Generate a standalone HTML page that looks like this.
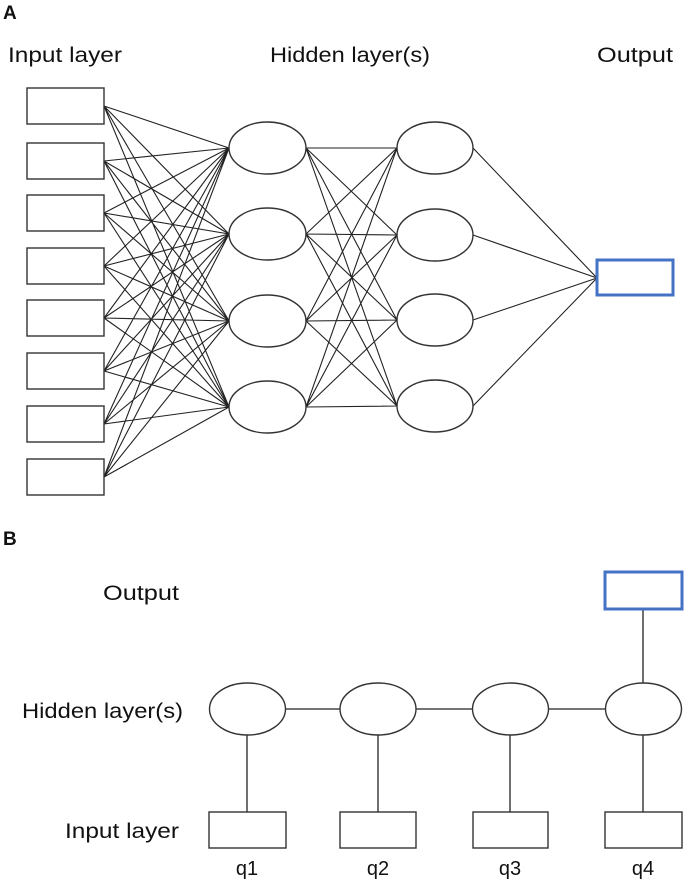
<!DOCTYPE html>
<html><head><meta charset="utf-8"><style>
html,body{margin:0;padding:0;background:#fff;}
svg{display:block;}
text{font-family:"Liberation Sans",sans-serif;fill:#111;}
</style></head><body>
<svg width="688" height="880" viewBox="0 0 688 880" xmlns="http://www.w3.org/2000/svg">
<g stroke="#222" stroke-width="1.1" fill="none">
<path d="M104 106L229 148M104 106L229 234M104 106L229 321M104 106L229 407
M104 161L229 148M104 161L229 234M104 161L229 321M104 161L229 407
M104 213L229 148M104 213L229 234M104 213L229 321M104 213L229 407
M104 266L229 148M104 266L229 234M104 266L229 321M104 266L229 407
M104 318L229 148M104 318L229 234M104 318L229 321M104 318L229 407
M104 371L229 148M104 371L229 234M104 371L229 321M104 371L229 407
M104 424L229 148M104 424L229 234M104 424L229 321M104 424L229 407
M104 477L229 148M104 477L229 234M104 477L229 321M104 477L229 407"/>
<path d="M306 148L397 148M306 148L397 235M306 148L397 320M306 148L397 406
M306 234L397 148M306 234L397 235M306 234L397 320M306 234L397 406
M306 321L397 148M306 321L397 235M306 321L397 320M306 321L397 406
M306 407L397 148M306 407L397 235M306 407L397 320M306 407L397 406"/>
<path d="M473 148L597 278M473 235L597 278M473 320L597 278M473 406L597 278"/>
</g>
<g stroke="#333" stroke-width="1.4" fill="#fff">
<rect x="27" y="88" width="77" height="36"/>
<rect x="27" y="143" width="77" height="36"/>
<rect x="27" y="195" width="77" height="36"/>
<rect x="27" y="248" width="77" height="36"/>
<rect x="27" y="300" width="77" height="36"/>
<rect x="27" y="353" width="77" height="36"/>
<rect x="27" y="406" width="77" height="36"/>
<rect x="27" y="459" width="77" height="36"/>
<ellipse cx="267.5" cy="148" rx="38.5" ry="26"/>
<ellipse cx="267.5" cy="234" rx="38.5" ry="26"/>
<ellipse cx="267.5" cy="321" rx="38.5" ry="26"/>
<ellipse cx="267.5" cy="407" rx="38.5" ry="26"/>
<ellipse cx="435" cy="148" rx="38" ry="26"/>
<ellipse cx="435" cy="235" rx="38" ry="26"/>
<ellipse cx="435" cy="320" rx="38" ry="26"/>
<ellipse cx="435" cy="406" rx="38" ry="26"/>
</g>
<rect x="597" y="260" width="76" height="35" fill="#fff" stroke="#4472c4" stroke-width="3"/>
<text x="3" y="19" font-size="19" font-weight="bold">A</text>
<text x="8" y="62" font-size="21" textLength="114" lengthAdjust="spacingAndGlyphs">Input layer</text>
<text x="270" y="62" font-size="21" textLength="160" lengthAdjust="spacingAndGlyphs">Hidden layer(s)</text>
<text x="597" y="62" font-size="21" textLength="76" lengthAdjust="spacingAndGlyphs">Output</text>

<text x="3" y="545" font-size="19" font-weight="bold">B</text>
<g stroke="#222" stroke-width="1.3" fill="none">
<path d="M286 709L340 709M416 709L473 709M548 709L605 709M643 609L643 683"/>
<path d="M247 735L247 812M378 735L378 812M510 735L510 812M643 735L643 812"/>
</g>
<g stroke="#333" stroke-width="1.4" fill="#fff">
<ellipse cx="247.5" cy="709" rx="38" ry="26"/>
<ellipse cx="378" cy="709" rx="38" ry="26"/>
<ellipse cx="510.5" cy="709" rx="38" ry="26"/>
<ellipse cx="643.5" cy="709" rx="38" ry="26"/>
<rect x="209" y="812" width="77" height="36"/>
<rect x="340" y="812" width="76" height="36"/>
<rect x="473" y="812" width="75" height="36"/>
<rect x="605" y="812" width="77" height="36"/>
</g>
<rect x="605" y="572" width="77" height="37" fill="#fff" stroke="#4472c4" stroke-width="3"/>
<text x="103" y="600" font-size="21" textLength="76" lengthAdjust="spacingAndGlyphs">Output</text>
<text x="22" y="718" font-size="21" textLength="161" lengthAdjust="spacingAndGlyphs">Hidden layer(s)</text>
<text x="65" y="838" font-size="21" textLength="114" lengthAdjust="spacingAndGlyphs">Input layer</text>
<g font-size="20" text-anchor="middle">
<text x="247" y="875">q1</text>
<text x="378" y="875">q2</text>
<text x="510" y="875">q3</text>
<text x="643" y="875">q4</text>
</g>
</svg>
</body></html>
